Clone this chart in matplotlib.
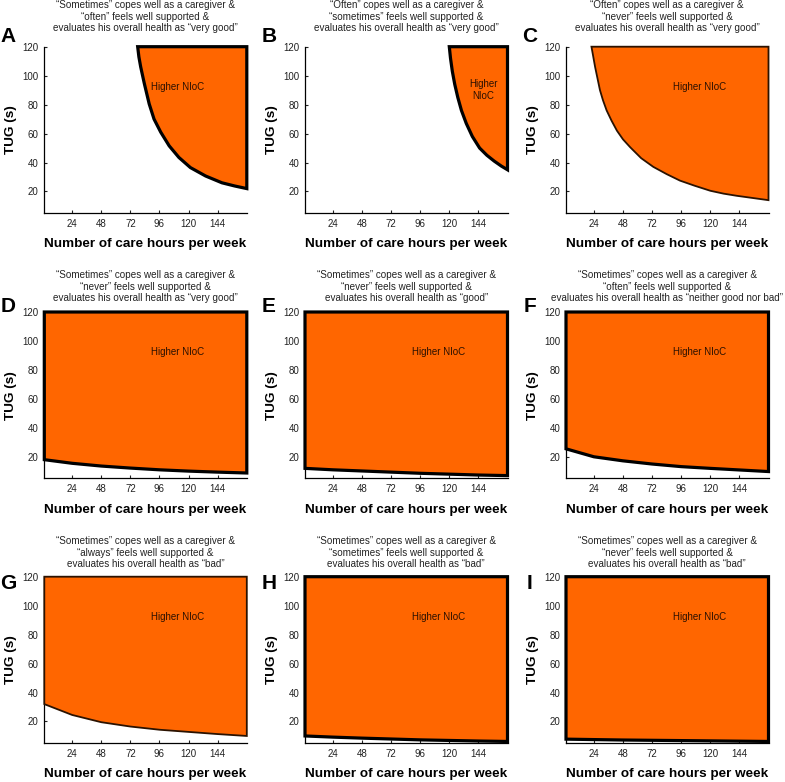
import numpy as np
import matplotlib.pyplot as plt

plt.rcParams['font.family'] = ['Liberation Sans', 'DejaVu Sans']

# care hours per week (x) and TUG in seconds (y) along each boundary curve
hours_A = [78, 79, 80.5, 83.5, 87.5, 91.5, 97, 104, 112, 121.5, 134, 147.5, 158, 168]
tug_A = [120, 113, 106, 94.5, 80.5, 70, 61, 51.5, 43.5, 36.5, 30.7, 26, 23.8, 22]

hours_B = [120, 121, 122.5, 124.5, 127, 130, 134, 139, 145, 151, 157, 163, 168]
tug_B = [120, 112, 103, 94, 85, 76, 67, 58, 50, 45, 41, 37.5, 35]

hours_C = [22, 23.5, 25, 27, 29, 31.5, 34.5, 38.5, 43, 48, 54, 63, 73, 84, 95,
           107, 120, 131, 142, 155, 168]
tug_C = [120, 113, 106, 98, 90, 83, 76, 69, 62, 56, 50.5, 43, 37, 32, 27.5,
         24, 20.5, 18.5, 17, 15.5, 14]

hours_full = [1, 24, 48, 72, 96, 120, 144, 168]
tug_D = [18, 15.5, 13.6, 12.2, 11, 10.1, 9.4, 8.8]
tug_E = [12, 11, 10.2, 9.4, 8.6, 8, 7.4, 7]
tug_F = [25.5, 20, 17.2, 15, 13.2, 12, 10.9, 9.8]
tug_G = [32, 24.5, 19.5, 16.5, 14.3, 12.8, 11.3, 10]
tug_H = [10, 9.2, 8.5, 7.9, 7.3, 6.9, 6.5, 6.2]
tug_I = [7.8, 7.5, 7.2, 7, 6.8, 6.6, 6.4, 6.2]

letters = ['A', 'B', 'C', 'D', 'E', 'F', 'G', 'H', 'I']
titles = [
    '\u201cSometimes\u201d copes well as a caregiver &\n\u201coften\u201d feels well supported &\nevaluates his overall health as \u201cvery good\u201d',
    '\u201cOften\u201d copes well as a caregiver &\n\u201csometimes\u201d feels well supported &\nevaluates his overall health as \u201cvery good\u201d',
    '\u201cOften\u201d copes well as a caregiver &\n\u201cnever\u201d feels well supported &\nevaluates his overall health as \u201cvery good\u201d',
    '\u201cSometimes\u201d copes well as a caregiver &\n\u201cnever\u201d feels well supported &\nevaluates his overall health as \u201cvery good\u201d',
    '\u201cSometimes\u201d copes well as a caregiver &\n\u201cnever\u201d feels well supported &\nevaluates his overall health as \u201cgood\u201d',
    '\u201cSometimes\u201d copes well as a caregiver &\n\u201coften\u201d feels well supported &\nevaluates his overall health as \u201cneither good nor bad\u201d',
    '\u201cSometimes\u201d copes well as a caregiver &\n\u201calways\u201d feels well supported &\nevaluates his overall health as \u201cbad\u201d',
    '\u201cSometimes\u201d copes well as a caregiver &\n\u201csometimes\u201d feels well supported &\nevaluates his overall health as \u201cbad\u201d',
    '\u201cSometimes\u201d copes well as a caregiver &\n\u201cnever\u201d feels well supported &\nevaluates his overall health as \u201cbad\u201d',
]
curves = [
    (hours_A, tug_A), (hours_B, tug_B), (hours_C, tug_C),
    (hours_full, tug_D), (hours_full, tug_E), (hours_full, tug_F),
    (hours_full, tug_G), (hours_full, tug_H), (hours_full, tug_I),
]
thin_edge = ['C', 'G']

W, H = 785, 782
fig = plt.figure(figsize=(W / 100, H / 100), dpi=100)

col_left = [44.3, 305, 566]
row_top = [46.7, 312, 576.7]
ax_w, ax_h = 202.5, 166.5
title_off = [30, 25.5, 24]     # px from axes top to centre of title block
letter_off = [10, 6, -7]       # px from axes top to centre of panel letter

for i, letter in enumerate(letters):
    r, c = divmod(i, 3)
    ax = fig.add_axes([col_left[c] / W, 1 - (row_top[r] + ax_h) / H, ax_w / W, ax_h / H])
    hx, ty = curves[i]
    xs = list(hx) + [168, hx[0]]
    ys = list(ty) + [120, 120]
    if letter in thin_edge:
        ax.fill(xs, ys, facecolor='#ff6600', edgecolor='#2b1200', lw=1.3, clip_on=False, zorder=3)
    else:
        ax.fill(xs, ys, facecolor='#ff6600', edgecolor='black', lw=2.3, clip_on=False,
                joinstyle='miter', zorder=3)

    ax.set_xlim(1, 168)
    ax.set_ylim(5, 120)
    ax.set_xticks([24, 48, 72, 96, 120, 144])
    ax.set_yticks([20, 40, 60, 80, 100, 120])
    ax.tick_params(direction='in', length=2.5, width=0.8, labelsize=7, pad=4, colors='#222222')
    for s in ['top', 'right']:
        ax.spines[s].set_visible(False)
    for s in ['left', 'bottom']:
        ax.spines[s].set_linewidth(0.9)
    ax.set_xlabel('Number of care hours per week', fontsize=9.7, fontweight='bold', labelpad=7)
    ax.set_ylabel('TUG (s)', fontsize=9.7, fontweight='bold', labelpad=4)

    if letter == 'B':
        ax.text(148, 90, 'Higher\nNIoC', fontsize=7, ha='center', va='center',
                color='#2a1000', zorder=4, linespacing=1.3)
    else:
        ax.text(111, 92.5, 'Higher NIoC', fontsize=7, ha='center', va='center',
                color='#2a1000', zorder=4)

    ax.annotate(titles[i], xy=(0.5, 1), xycoords='axes fraction',
                xytext=(0, title_off[r] * 0.72), textcoords='offset points',
                ha='center', va='center', fontsize=7.1, linespacing=1.17, color='#222222')
    ax.annotate(letter, xy=(0, 1), xycoords='axes fraction',
                xytext=(-36 * 0.72, letter_off[r] * 0.72), textcoords='offset points',
                ha='center', va='center', fontsize=15, fontweight='bold')

fig.savefig('out.png', dpi=100)
